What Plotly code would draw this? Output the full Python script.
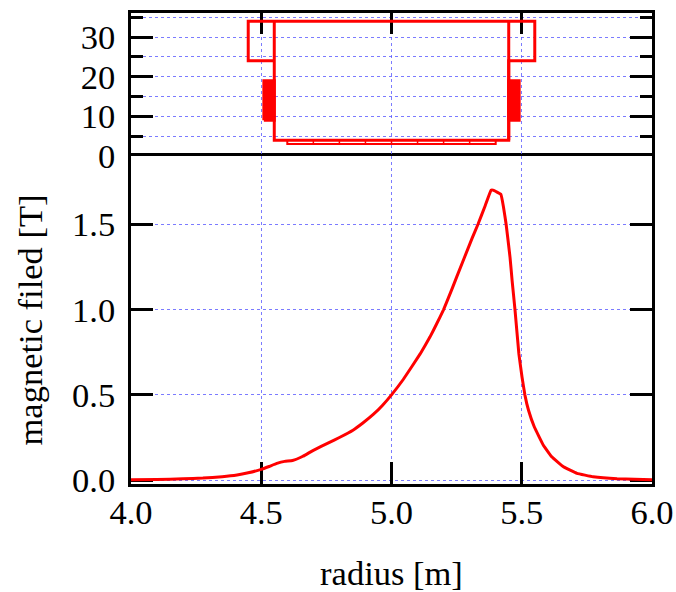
import plotly.graph_objects as go

# Field profile
radius = [4.0, 4.1, 4.2, 4.276, 4.35, 4.407, 4.45, 4.5, 4.53, 4.56, 4.59, 4.62, 4.66, 4.7, 4.76, 4.8, 4.852, 4.89, 4.93, 4.965,
          5.0, 5.045, 5.11, 5.148, 5.173, 5.2, 5.232, 5.25, 5.31, 5.332, 5.36, 5.382, 5.39, 5.42, 5.43, 5.44, 5.455, 5.463,
          5.474, 5.489, 5.501, 5.512, 5.526, 5.548, 5.583, 5.615, 5.66, 5.712, 5.774, 5.866, 6.0]
field = [0.003, 0.004, 0.008, 0.012, 0.02, 0.03, 0.043, 0.063, 0.08, 0.098, 0.11, 0.115, 0.14, 0.175, 0.22, 0.25, 0.293, 0.335, 0.385, 0.438,
         0.5, 0.59, 0.74, 0.84, 0.915, 1.0, 1.12, 1.19, 1.42, 1.5, 1.61, 1.70, 1.70, 1.675, 1.6, 1.5, 1.306, 1.17,
         1.0, 0.74, 0.605, 0.5, 0.41, 0.313, 0.205, 0.137, 0.078, 0.04, 0.02, 0.008, 0.003]

# Magnet cross-section
outline_r = [4.55, 4.45, 4.45, 5.55, 5.55, 5.45, 5.45, 4.55, 4.55]
outline_z = [24, 24, 34, 34, 24, 24, 4, 4, 34]
inner_r = [5.45, 5.45]
inner_z = [4, 34]
coil_left_r = [4.51, 4.55, 4.55, 4.51, 4.51]
coil_right_r = [5.45, 5.49, 5.49, 5.45, 5.45]
coil_z = [9, 9, 19, 19, 9]
plate_r = [4.6, 4.6, 5.4, 5.4]
plate_z = [4, 3, 3, 4]
divider_r = [4.7, 4.8, 4.9, 5.0, 5.1, 5.2, 5.3]
divider_z = [3, 4]

x_ticks = [4.0, 4.5, 5.0, 5.5, 6.0]
x_labels = ["4.0", "4.5", "5.0", "5.5", "6.0"]
z_ticks = [0, 10, 20, 30]
z_minor = [5, 15, 25, 35]
b_ticks = [0.0, 0.5, 1.0, 1.5]
b_labels = ["0.0", "0.5", "1.0", "1.5"]

W, H = 676, 592
RED = "#ff0000"
GRID = "rgba(90,90,255,0.8)"
FONT = dict(family="Liberation Serif", size=34.5, color="black")

def dom_x(a, b):
    return [a / W, b / W]

def dom_y(top, bot):
    return [1 - bot / H, 1 - top / H]

fig = go.Figure()
red_line = dict(color=RED, width=3, shape="spline", smoothing=0.25)
fig.add_trace(go.Scatter(x=radius, y=field, mode="lines", line=red_line, xaxis="x", yaxis="y"))
mag_line = dict(color=RED, width=3)
fig.add_trace(go.Scatter(x=outline_r, y=outline_z, mode="lines", line=mag_line, xaxis="x2", yaxis="y2"))
fig.add_trace(go.Scatter(x=inner_r, y=inner_z, mode="lines", line=mag_line, xaxis="x2", yaxis="y2"))
for cr in (coil_left_r, coil_right_r):
    fig.add_trace(go.Scatter(x=cr, y=coil_z, mode="lines", fill="toself", fillcolor=RED,
                             line=mag_line, xaxis="x2", yaxis="y2"))
fig.add_trace(go.Scatter(x=plate_r, y=plate_z, mode="lines", line=dict(color=RED, width=2), xaxis="x2", yaxis="y2"))
for d in divider_r:
    fig.add_trace(go.Scatter(x=[d, d], y=divider_z, mode="lines", line=dict(color=RED, width=1.5), xaxis="x2", yaxis="y2"))

spine = dict(showline=True, linecolor="black", linewidth=2.8, mirror="ticks", zeroline=False, automargin=False,
             ticks="inside", tickcolor="black", tickwidth=2.8, ticklen=22, layer="below traces",
             showgrid=True, gridcolor=GRID, gridwidth=1, griddash="3px,3px", tickfont=FONT)

fig.update_layout(
    width=W, height=H, margin=dict(l=0, r=0, t=0, b=0), showlegend=False,
    paper_bgcolor="white", plot_bgcolor="white", font=FONT,
    xaxis=dict(domain=dom_x(131, 652), range=[4, 6], tickvals=x_ticks, ticktext=x_labels, anchor="y",
               title=dict(text="radius [m]", font=FONT, standoff=31), ticklabelstandoff=-4,
               **{**spine, "mirror": True}),
    yaxis=dict(domain=dom_y(156, 484), range=[-0.0225, 1.9], tickvals=b_ticks, ticktext=b_labels, anchor="x",
               title=dict(text="magnetic filed [T]", font=FONT, standoff=20), ticklabelstandoff=6, **spine),
    xaxis2=dict(domain=dom_x(131, 652), range=[4, 6], tickvals=x_ticks, showticklabels=False, anchor="y2",
                side="top", **{**spine, "mirror": False}),
    yaxis2=dict(domain=dom_y(12.5, 156), range=[0, 36.2], tickvals=z_ticks, anchor="x2", ticklabelstandoff=6,
                minor=dict(tickvals=z_minor, ticks="inside", ticklen=12, tickwidth=2.8, tickcolor="black",
                           showgrid=True, gridcolor=GRID, gridwidth=1, griddash="3px,3px"),
                **spine),
)
fig.write_html("out.html", post_script="document.body.style.margin='0';", config={"displayModeBar": False})
